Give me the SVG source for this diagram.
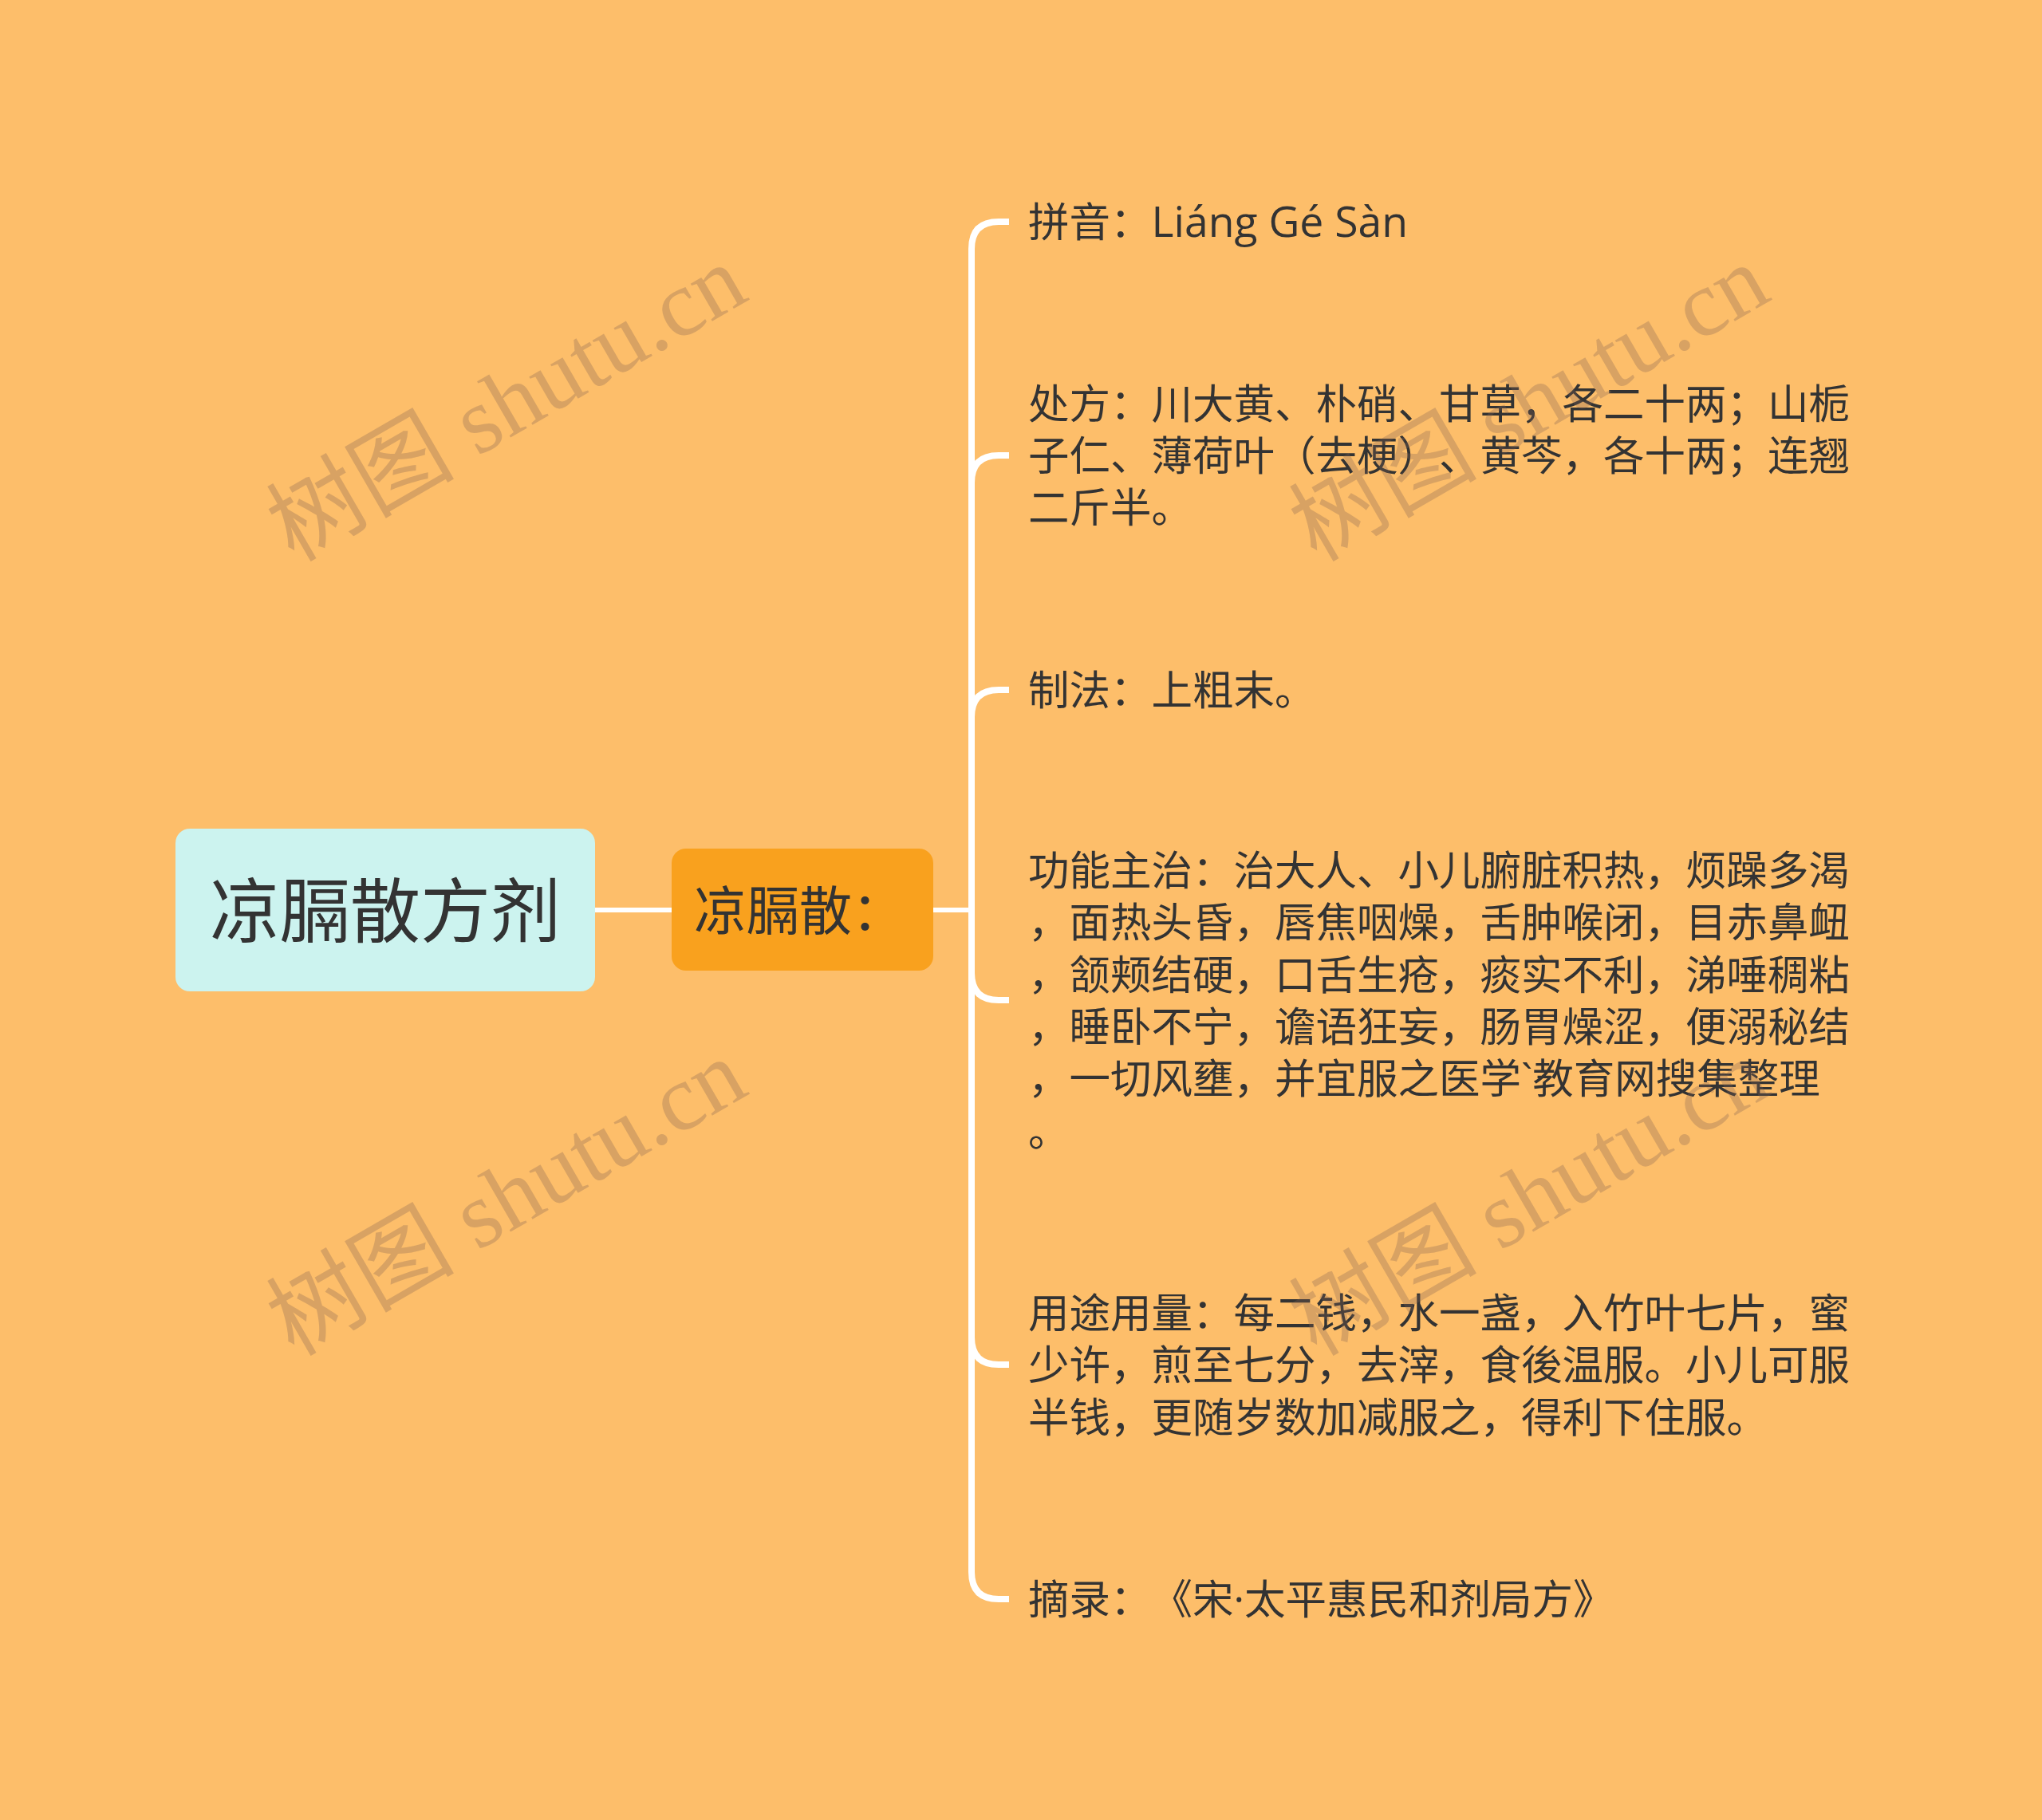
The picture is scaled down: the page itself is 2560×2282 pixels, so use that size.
<svg xmlns="http://www.w3.org/2000/svg" width="2560" height="2282" viewBox="0 0 2560 2282">
<style>
text{text-spacing-trim:space-all}
.t{font-family:"Open Sans","Noto Sans CJK SC",sans-serif;font-size:51.5px;fill:#333333}
.lat{font-size:53.5px}
.root{font-family:"Noto Sans CJK SC",sans-serif;font-size:88px;fill:#333333}
.sub{font-family:"Noto Sans CJK SC",sans-serif;font-size:66px;fill:#333333}
.br{fill:none;stroke:#FFFFFF;stroke-width:8;stroke-linecap:butt}
.ln{fill:none;stroke:#FFFFFF;stroke-width:6}
.wm{font-family:"Liberation Serif","Noto Sans CJK SC",serif;font-size:118px;fill:#836252;fill-opacity:0.3}
</style>
<rect x="0" y="0" width="2560" height="2282" fill="#FDBE6A"/>
<g id="connectors">
<path class="ln" d="M746 1141 H842"/>
<path class="ln" d="M1169 1141 H1219"/>
<path class="br" d="M1218 1141 V312 Q1218 278 1252 278 H1265"/>
<path class="br" d="M1218 1141 V605 Q1218 571 1252 571 H1265"/>
<path class="br" d="M1218 1141 V899 Q1218 865 1252 865 H1265"/>
<path class="br" d="M1218 1141 V1220 Q1218 1254 1252 1254 H1265"/>
<path class="br" d="M1218 1141 V1677 Q1218 1711 1252 1711 H1265"/>
<path class="br" d="M1218 1141 V1971 Q1218 2005 1252 2005 H1265"/>
</g>
<g id="root">
<rect x="220" y="1039" width="526" height="204" rx="18" fill="#CCF3EF"/>
<text class="root" x="483" y="1174" text-anchor="middle">凉膈散方剂</text>
</g>
<g id="main">
<rect x="842" y="1064" width="328" height="153" rx="18" fill="#F9A11E"/>
<text class="sub" x="870" y="1166">凉膈散：</text>
</g>
<g id="n-pinyin">
<text class="t" x="1289" y="297">拼音：<tspan class="lat">Liáng Gé Sàn</tspan></text>
</g>
<g id="n-chufang">
<text class="t" x="1289" y="525">处方：川大黄、朴硝、甘草，各二十两；山栀</text>
<text class="t" x="1289" y="590">子仁、薄荷叶（去梗）、黄芩，各十两；连翘</text>
<text class="t" x="1289" y="655">二斤半。</text>
</g>
<g id="n-zhifa">
<text class="t" x="1289" y="884">制法：上粗末。</text>
</g>
<g id="n-gongneng">
<text class="t" x="1289" y="1110">功能主治：治大人、小儿腑脏积热，烦躁多渴</text>
<text class="t" x="1289" y="1175">，面热头昏，唇焦咽燥，舌肿喉闭，目赤鼻衄</text>
<text class="t" x="1289" y="1241">，颔颊结硬，口舌生疮，痰实不利，涕唾稠粘</text>
<text class="t" x="1289" y="1306">，睡卧不宁，谵语狂妄，肠胃燥涩，便溺秘结</text>
<text class="t" x="1289" y="1371">，一切风壅，并宜服之医学`教育网搜集整理</text>
<text class="t" x="1289" y="1437">。</text>
</g>
<g id="n-yongtu">
<text class="t" x="1289" y="1665">用途用量：每二钱，水一盏，入竹叶七片，蜜</text>
<text class="t" x="1289" y="1730">少许，煎至七分，去滓，食後温服。小儿可服</text>
<text class="t" x="1289" y="1796">半钱，更随岁数加减服之，得利下住服。</text>
</g>
<g id="n-zhailu">
<text class="t" x="1289" y="2024">摘录：《宋·太平惠民和剂局方》</text>
</g>
<g id="watermarks">
<text class="wm" x="655" y="540" text-anchor="middle" transform="rotate(-30 655 540)">树图 shutu.cn</text>
<text class="wm" x="1937" y="540" text-anchor="middle" transform="rotate(-30 1937 540)">树图 shutu.cn</text>
<text class="wm" x="655" y="1536" text-anchor="middle" transform="rotate(-30 655 1536)">树图 shutu.cn</text>
<text class="wm" x="1937" y="1536" text-anchor="middle" transform="rotate(-30 1937 1536)">树图 shutu.cn</text>
</g>
</svg>
